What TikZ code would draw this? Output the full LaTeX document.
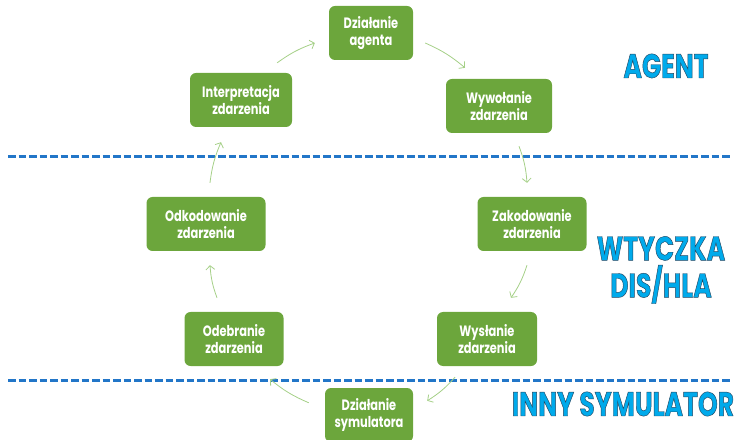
\documentclass[tikz,border=0pt]{standalone}
\usepackage{fontspec}
\usetikzlibrary{arrows.meta}

\newfontfamily\boxfont[FakeStretch=0.76]{Poppins}
\newfontfamily\headfont[FakeStretch=0.74]{Poppins}

\definecolor{boxgreen}{RGB}{108,166,60}
\definecolor{arrowgreen}{RGB}{165,208,135}
\definecolor{sepblue}{RGB}{34,118,200}
\definecolor{headcyan}{RGB}{0,170,235}
\definecolor{headedge}{RGB}{30,60,85}

% outlined heading text
\newcommand{\outltext}[1]{\special{pdf:literal direct 2 Tr 0.45 w 0.15 0.28 0.38 RG}#1\special{pdf:literal direct 0 Tr}}

\tikzset{
  evt/.style={fill=boxgreen, rounded corners=6pt, text=white, align=center,
    minimum height=54pt, inner sep=0pt,
    font=\boxfont\bfseries\fontsize{15}{17.5}\selectfont},
  cyc/.style={-{Straight Barb[length=4pt,width=9pt]}, line width=.8pt, draw=arrowgreen},
  sep/.style={draw=sepblue, line width=3pt, dash pattern=on 7.5pt off 3pt},
  head/.style={text=headcyan, align=center,
    font=\headfont\bfseries\fontsize{34}{37}\selectfont}
}

\begin{document}
\begin{tikzpicture}[x=1pt, y=1pt]
  \useasboundingbox (0, 0) rectangle (738, 439);

  %%separators
  \draw[sep](8, 282) to (730, 282);
  \draw[sep](8, 59) to (730, 59);

  %%agent
  \node[evt, minimum width=84pt](agent) at (371, 406) {Działanie\\agenta};
  \node[evt, minimum width=106pt](wyw) at (499, 333) {Wywołanie\\zdarzenia};
  \node[evt, minimum width=102pt](interp) at (241, 339) {Interpretacja\\zdarzenia};

  %%wtyczka
  \node[evt, minimum width=119pt](odk) at (206, 215) {Odkodowanie\\zdarzenia};
  \node[evt, minimum width=109pt](zak) at (532, 215) {Zakodowanie\\zdarzenia};
  \node[evt, minimum width=99pt](odeb) at (234, 100) {Odebranie\\zdarzenia};
  \node[evt, minimum width=100pt](wysl) at (487, 100) {Wysłanie\\zdarzenia};

  %%symulator
  \node[evt, minimum width=88pt](sym) at (369, 24) {Działanie\\symulatora};

  %%cycle
  \draw[cyc]([shift={(-15, 10)}]interp.north east) to[bend left=8] ([shift={(-14, -10)}]agent.west);
  \draw[cyc]([shift={(12, -10)}]agent.east) to[bend left=8] ([shift={(-34, 11)}]wyw.north);
  \draw[cyc]([shift={(20, -13)}]wyw.south) to[bend left=8] ([shift={(-5, 14)}]zak.north);
  \draw[cyc]([shift={(-5, -14)}]zak.south) to[bend left=8] ([shift={(24, 14)}]wysl.north);
  \draw[cyc]([shift={(-32, -11)}]wysl.south) to[bend left=8] ([shift={(14, -13)}]sym.north east);
  \draw[cyc]([shift={(-16, -15)}]sym.north west) to[bend left=8] ([shift={(36, -13)}]odeb.south);
  \draw[cyc]([shift={(-17, 14)}]odeb.north) to[bend left=8] ([shift={(4, -14)}]odk.south);
  \draw[cyc]([shift={(4, 14)}]odk.north) to[bend left=8] ([shift={(-20, -15)}]interp.south);

  %%headings
  \node[head](hagent) at (666, 373) {\outltext{AGENT}};
  \node[head](hplug) at (661, 169) {\outltext{WTYCZKA}\\\outltext{DIS/HLA}};
  \node[head](hsym) at (623, 35) {\outltext{INNY SYMULATOR}};

\end{tikzpicture}
\end{document}
